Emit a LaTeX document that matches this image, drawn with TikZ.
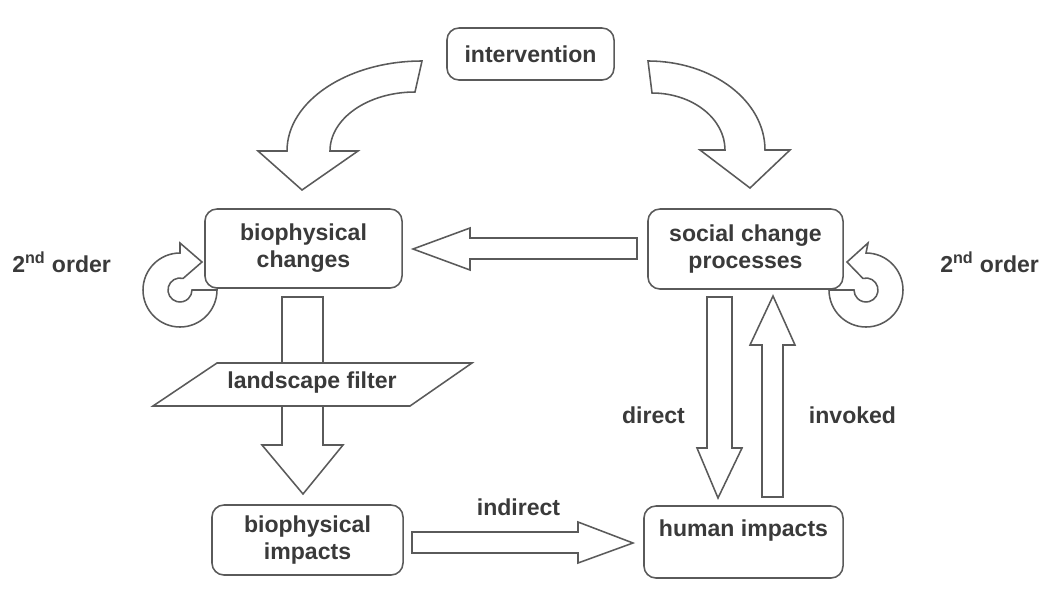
\documentclass[tikz,border=0pt]{standalone}
\usepackage{fontspec}
\setmainfont{Liberation Sans}
\definecolor{ink}{HTML}{3A3A3A}
\definecolor{edge}{HTML}{5A5A5A}
\begin{document}
\begin{tikzpicture}[x=0.025cm, y=-0.025cm,
  txt/.style={font=\fontsize{16.4}{19.2}\selectfont\bfseries, text=ink},
  box/.style={txt, draw=edge, line width=1.1pt, rounded corners=0.3cm,
    fill=white, inner sep=0pt, align=center},
  blockarrow/.style={draw=edge, line width=1.1pt, fill=white, line join=miter},
  lbl/.style={txt, anchor=base, inner sep=0pt}]
\useasboundingbox (0,0) rectangle (1052,593);

% circular "2nd order" arrows (drawn beneath the boxes)
\draw[blockarrow] (217,290) arc[start angle=0, end angle=270, radius=37]
  -- (180,243) -- (202,262) -- (183.1,278.4)
  arc[start angle=285, end angle=0, radius=12] -- cycle;
\draw[blockarrow] (829,290) arc[start angle=180, end angle=-90, radius=37]
  -- (868,243) -- (847,262) -- (862.9,278.4)
  arc[start angle=255, end angle=540, radius=12] -- cycle;

% boxes
\node[box, minimum width=4.175cm, minimum height=1.3cm] (iv) at (530.5,54) {intervention};
\node[box, minimum width=4.925cm, minimum height=1.975cm] (bc) at (303.5,248.5) {biophysical\\changes};
\node[box, minimum width=4.875cm, minimum height=2cm] (sc) at (745.5,249) {social change\\processes};
\node[box, minimum width=4.775cm, minimum height=1.75cm] (bi) at (307.5,540) {biophysical\\impacts};
\node[box, minimum width=4.975cm, minimum height=1.8cm] (hi) at (743.5,542) {human impacts\\\phantom{x}};

% curved arrows out of the intervention
\draw[blockarrow] (422,61) arc[start angle=270, end angle=180, x radius=135, y radius=90]
  -- (258,151) -- (302,190) -- (358,151) -- (330,151)
  arc[start angle=180, end angle=270, x radius=85, y radius=59] -- cycle;
\draw[blockarrow] (648,61) arc[start angle=270, end angle=360, x radius=117, y radius=89]
  -- (790,150) -- (750,188) -- (700,150) -- (725,150)
  arc[start angle=0, end angle=-90, x radius=73, y radius=57] -- cycle;

% social change -> biophysical changes
\draw[blockarrow] (637,238) -- (470,238) -- (470,228) -- (413,249)
  -- (470,270) -- (470,259) -- (637,259) -- cycle;

% biophysical impacts -> human impacts (indirect)
\draw[blockarrow] (412,532) -- (578,532) -- (578,522) -- (633,543)
  -- (578,563) -- (578,553) -- (412,553) -- cycle;

% social change -> human impacts (direct)
\draw[blockarrow] (707,297) -- (732,297) -- (732,448) -- (742,448)
  -- (718,498) -- (697,448) -- (707,448) -- cycle;

% human impacts -> social change (invoked)
\draw[blockarrow] (762,497) -- (783,497) -- (783,345) -- (795,345)
  -- (773,296) -- (750,345) -- (762,345) -- cycle;

% biophysical changes -> biophysical impacts through the landscape filter
\draw[blockarrow] (282,297) -- (323,297) -- (323,445) -- (343,445)
  -- (303,494) -- (262,445) -- (282,445) -- cycle;
\draw[blockarrow] (217,363) -- (472,363) -- (410,406) -- (153,406) -- cycle;
\node[lbl] (lf) at (312,388) {landscape filter};

% labels
\node[lbl, anchor=base west] (ol) at (12,272) {2\textsuperscript{nd} order};
\node[lbl, anchor=base west] (or) at (940,272) {2\textsuperscript{nd} order};
\node[lbl] (dl) at (653.5,423) {direct};
\node[lbl] (il) at (852.5,423) {invoked};
\node[lbl] (nl) at (518.5,515) {indirect};
\end{tikzpicture}
\end{document}
